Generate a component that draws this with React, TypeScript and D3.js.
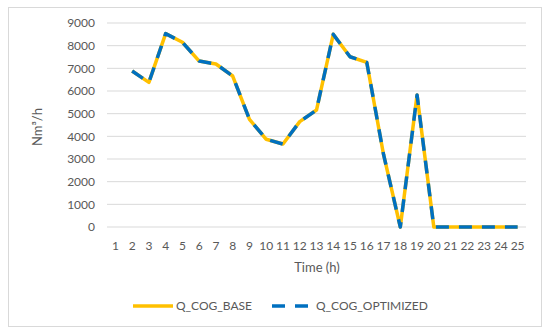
import React from "react";
import * as d3 from "d3";

const hours = d3.range(1, 26).map(String);
const yTicks = [0, 1000, 2000, 3000, 4000, 5000, 6000, 7000, 8000, 9000];
// values start at hour 2
const qBase = [
	null, 6880, 6380, 8530, 8150, 7320, 7190, 6660, 4750, 3870, 3660, 4650,
	5160, 8500, 7510, 7260, 3200, 0, 5820, 0, 0, 0, 0, 0, 0,
];
const qOptimized = [
	null, 6880, 6380, 8530, 8150, 7320, 7190, 6660, 4750, 3870, 3660, 4650,
	5160, 8500, 7510, 7260, 3200, 0, 5820, 0, 0, 0, 0, 0, 0,
];

const W = 550;
const H = 336;
const font = "Lato, 'Open Sans', sans-serif";
const grey = "#595959";
const yellow = "#FFC000";
const blue = "#0070C0";

const App: React.FC = () => {
	const margin = { left: 107, right: 24, top: 23, bottom: 109 };
	const x = d3
		.scaleBand()
		.domain(hours)
		.range([margin.left, W - margin.right]);
	const y = d3
		.scaleLinear()
		.domain([0, 9000])
		.range([H - margin.bottom, margin.top]);

	const line = d3
		.line<number | null>()
		.defined((d) => d !== null)
		.x((_, i) => x(hours[i])! + x.bandwidth() / 2)
		.y((d) => y(d as number));

	return (
		<svg
			width={W}
			height={H}
			style={{ position: "absolute", left: 0, top: 0 }}
		>
			<rect x={0} y={0} width={W} height={H} fill="white" />
			<rect
				x={8.5}
				y={7.5}
				width={533}
				height={319}
				fill="white"
				stroke="#d9d9d9"
			/>
			{yTicks.map((t) => (
				<g key={t}>
					<line
						x1={margin.left}
						x2={W - margin.right}
						y1={y(t)}
						y2={y(t)}
						stroke="#d9d9d9"
						strokeWidth={1}
					/>
					<text
						x={95}
						y={y(t)}
						dy="0.35em"
						textAnchor="end"
						fontFamily={font}
						fontSize={12}
						fill={grey}
					>
						{t}
					</text>
				</g>
			))}
			{hours.map((h) => (
				<text
					key={h}
					x={x(h)! + x.bandwidth() / 2}
					y={246}
					dy="0.35em"
					textAnchor="middle"
					fontFamily={font}
					fontSize={12}
					fill={grey}
				>
					{h}
				</text>
			))}
			<text
				x={317}
				y={267}
				dy="0.35em"
				textAnchor="middle"
				fontFamily={font}
				fontSize={13}
				fill={grey}
			>
				Time (h)
			</text>
			<text
				transform={`translate(37,127) rotate(-90)`}
				dy="0.35em"
				textAnchor="middle"
				fontFamily={font}
				fontSize={13}
				fill={grey}
			>
				Nm³/h
			</text>
			<path
				d={line(qBase) ?? ""}
				fill="none"
				stroke={yellow}
				strokeWidth={3.5}
				strokeLinejoin="round"
			/>
			<path
				d={line(qOptimized) ?? ""}
				fill="none"
				stroke={blue}
				strokeWidth={3.5}
				strokeDasharray="13 10"
				strokeLinejoin="round"
			/>
			{/* legend */}
			<line
				x1={133}
				x2={173}
				y1={306}
				y2={306}
				stroke={yellow}
				strokeWidth={3.5}
			/>
			<text
				x={176}
				y={306}
				dy="0.35em"
				fontFamily={font}
				fontSize={12}
				fill={grey}
			>
				Q_COG_BASE
			</text>
			<line
				x1={272}
				x2={308}
				y1={306}
				y2={306}
				stroke={blue}
				strokeWidth={3.5}
				strokeDasharray="13 10"
			/>
			<text
				x={316}
				y={306}
				dy="0.35em"
				fontFamily={font}
				fontSize={12}
				fill={grey}
			>
				Q_COG_OPTIMIZED
			</text>
		</svg>
	);
};

export default App;
